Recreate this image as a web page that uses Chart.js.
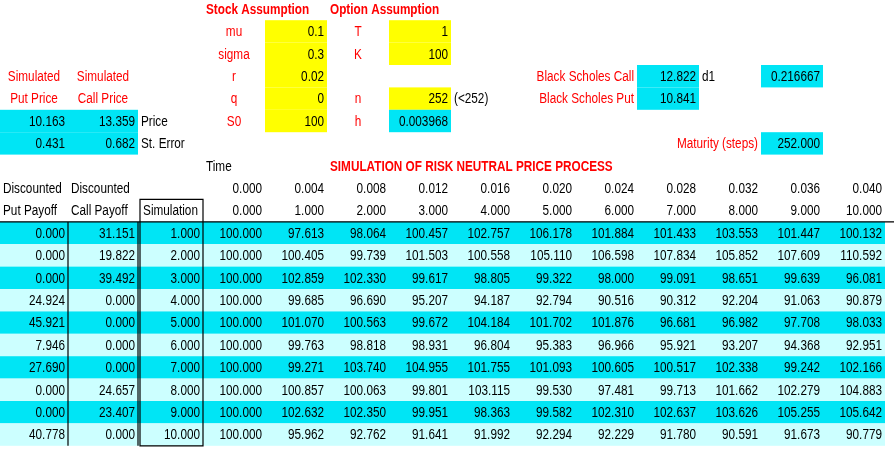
<!DOCTYPE html>
<html><head><meta charset="utf-8">
<script src="https://cdn.jsdelivr.net/npm/chart.js@4"></script>
<style>html,body{margin:0;padding:0;background:#fff}canvas{display:block}</style>
</head><body>
<canvas id="c" width="894" height="452"></canvas>
<script>
const timeSteps = [0.000,0.004,0.008,0.012,0.016,0.020,0.024,0.028,0.032,0.036,0.040];
const stepIndex = [0,1,2,3,4,5,6,7,8,9,10];
const simulation = [1,2,3,4,5,6,7,8,9,10];
const putPayoff = [0.000,0.000,0.000,24.924,45.921,7.946,27.690,0.000,0.000,40.778];
const callPayoff = [31.151,19.822,39.492,0.000,0.000,0.000,0.000,24.657,23.407,0.000];
const path1 = [100,97.613,98.064,100.457,102.757,106.178,101.884,101.433,103.553,101.447,100.132];
const path2 = [100,100.405,99.739,101.503,100.558,105.110,106.598,107.834,105.852,107.609,110.592];
const path3 = [100,102.859,102.330,99.617,98.805,99.322,98.000,99.091,98.651,99.639,96.081];
const path4 = [100,99.685,96.690,95.207,94.187,92.794,90.516,90.312,92.204,91.063,90.879];
const path5 = [100,101.070,100.563,99.672,104.184,101.702,101.876,96.681,96.982,97.708,98.033];
const path6 = [100,99.763,98.818,98.931,96.804,95.383,96.966,95.921,93.207,94.368,92.951];
const path7 = [100,99.271,103.740,104.955,101.755,101.093,100.605,100.517,102.338,99.242,102.166];
const path8 = [100,100.857,100.063,99.801,103.115,99.530,97.481,99.713,101.662,102.279,104.883];
const path9 = [100,102.632,102.350,99.951,98.363,99.582,102.310,102.637,103.626,105.255,105.642];
const path10 = [100,95.962,92.762,91.641,91.992,92.294,92.229,91.780,90.591,91.673,90.779];
const paths = [path1,path2,path3,path4,path5,path6,path7,path8,path9,path10];
const stockLabels = ["mu","sigma","r","q","S0"];
const stockValues = ["0.1","0.3","0.02","0","100"];
const optionLabels = ["T","K","","n","h"];
const optionValues = ["1","100","","252","0.003968"];
const simPut = [10.163, 0.431];
const simCall = [13.359, 0.682];
const bsCall = 12.822, bsPut = 10.841, d1 = "0.216667", maturity = 252;

const colEdges=[0,68,138,203]; for(let k=1;k<=11;k++) colEdges.push(203+62*k);
const rowH=22.4, row0=-2.2;
const CY='#00E5F5', LC='#CCFFFF', YE='#FFFF00', RED='#FF0000';
const FONT='"Liberation Sans",Arial,sans-serif';
const SX=0.84;
const f3=v=>v.toFixed(3);

const sheet={id:'sheet',afterDraw(ch){
  const ctx=ch.ctx, xs=ch.scales.x, ys=ch.scales.y;
  const X=v=>xs.getPixelForValue(v), Y=v=>ys.getPixelForValue(v);
  function cell(c,r,text,o={}){
    const c2=o.span?c+o.span:c+1;
    const x0=X(colEdges[c]),x1=X(colEdges[c2]),y0=Y(row0+r*rowH),y1=Y(row0+(r+1)*rowH);
    if(o.bg){ctx.fillStyle=o.bg;ctx.fillRect(x0,y0,x1-x0,y1-y0);}
    if(text===''||text==null)return;
    ctx.font=(o.bold?'bold ':'')+'14px '+FONT;
    ctx.fillStyle=o.color||'#000';ctx.textBaseline='middle';
    const a=o.align||'right';ctx.textAlign=a;
    const tx=a==='right'?x1-3:a==='left'?x0+3:(x0+x1)/2;
    ctx.save();ctx.translate(tx,(y0+y1)/2+1);ctx.scale(SX,1);
    ctx.fillText(String(text),0,0);ctx.restore();
  }
  ctx.save();
  cell(3,0,'Stock Assumption',{color:RED,bold:true,align:'left',span:2});
  cell(5,0,'Option Assumption',{color:RED,bold:true,align:'left',span:2});
  for(let i=0;i<5;i++){
    cell(3,i+1,stockLabels[i],{color:RED,align:'center'});
    cell(4,i+1,stockValues[i],{bg:YE});
    cell(5,i+1,optionLabels[i],{color:RED,align:'center'});
    if(optionValues[i]!=='')cell(6,i+1,optionValues[i],{bg:i===4?CY:YE});
  }
  cell(7,4,'(<252)',{align:'left'});
  cell(0,3,'Simulated',{color:RED,align:'center'});cell(1,3,'Simulated',{color:RED,align:'center'});
  cell(0,4,'Put Price',{color:RED,align:'center'});cell(1,4,'Call Price',{color:RED,align:'center'});
  cell(0,5,f3(simPut[0]),{bg:CY});cell(1,5,f3(simCall[0]),{bg:CY});cell(2,5,'Price',{align:'left'});
  cell(0,6,f3(simPut[1]),{bg:CY});cell(1,6,f3(simCall[1]),{bg:CY});cell(2,6,'St. Error',{align:'left'});
  cell(9,3,'Black Scholes Call',{color:RED});cell(10,3,f3(bsCall),{bg:CY});cell(11,3,'d1',{align:'left'});cell(12,3,d1,{bg:CY});
  cell(9,4,'Black Scholes Put',{color:RED});cell(10,4,f3(bsPut),{bg:CY});
  cell(11,6,'Maturity (steps)',{color:RED});cell(12,6,f3(maturity),{bg:CY});
  cell(3,7,'Time',{align:'left'});
  cell(5,7,'SIMULATION OF RISK NEUTRAL PRICE PROCESS',{color:RED,bold:true,align:'left',span:5});
  cell(0,8,'Discounted',{align:'left'});cell(1,8,'Discounted',{align:'left'});
  cell(0,9,'Put Payoff',{align:'left'});cell(1,9,'Call Payoff',{align:'left'});cell(2,9,'Simulation',{align:'center'});
  for(let j=0;j<11;j++){cell(3+j,8,f3(timeSteps[j]));cell(3+j,9,f3(stepIndex[j]));}
  for(let i=0;i<10;i++){
    const bg=i%2===0?CY:LC, r=10+i;
    cell(0,r,'',{bg,span:14});
    cell(0,r,f3(putPayoff[i]));cell(1,r,f3(callPayoff[i]));cell(2,r,f3(simulation[i]));
    for(let j=0;j<11;j++)cell(3+j,r,f3(paths[i][j]));
  }
  ctx.strokeStyle='#000';ctx.lineWidth=1.2;
  const yt=Y(row0+10*rowH),yb=Y(row0+20*rowH);
  ctx.beginPath();
  ctx.moveTo(X(0),yt);ctx.lineTo(X(894),yt);
  ctx.moveTo(X(68),yt);ctx.lineTo(X(68),yb);
  ctx.moveTo(X(138),yt);ctx.lineTo(X(138),yb);
  ctx.rect(X(140),Y(row0+9*rowH),X(203)-X(140),yb-Y(row0+9*rowH));
  ctx.stroke();
  ctx.restore();
}};
new Chart(document.getElementById('c'),{
  type:'scatter',
  data:{datasets:[{data:[],pointRadius:0}]},
  options:{responsive:false,animation:false,devicePixelRatio:1,
    layout:{padding:0},
    plugins:{legend:{display:false},tooltip:{enabled:false}},
    scales:{x:{type:'linear',min:0,max:894,display:false},y:{type:'linear',min:0,max:452,reverse:true,display:false}}},
  plugins:[sheet]
});
</script></body></html>
